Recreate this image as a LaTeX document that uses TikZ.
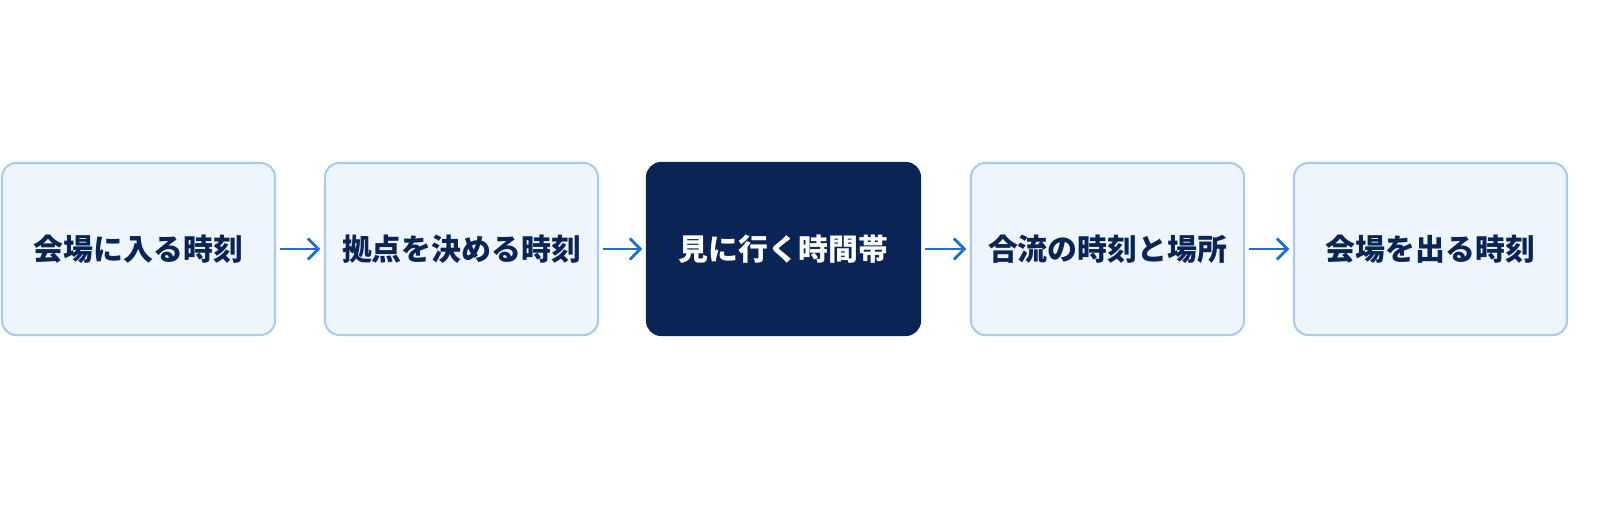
\documentclass[tikz,border=0pt]{standalone}
\usepackage{fontspec}
\newfontfamily\cjk{Noto Sans CJK JP}
\usetikzlibrary{arrows.meta,positioning}
\definecolor{boxfill}{HTML}{EFF5FC}
\definecolor{boxline}{HTML}{A8CBEE}
\definecolor{navy}{HTML}{0A2456}
\definecolor{arrowblue}{HTML}{1F6FD0}
\begin{document}
\begin{tikzpicture}
			[x=0.02cm,y=-0.02cm,
			stage/.style ={rectangle, rounded corners=8pt, draw=boxline, line width=1.2pt, fill=boxfill, minimum width=5.46cm, minimum height=3.44cm, text=navy, font=\cjk\bfseries\fontsize{17}{20}\selectfont},
			focus/.style ={stage, draw=navy, fill=navy, text=white},
			link/.style ={-{Straight Barb[length=6pt,width=12pt]}, arrowblue, line width=1.6pt, shorten <=2pt, shorten >=2pt}]
			\useasboundingbox (0,0) rectangle (1600,509);
			\node[stage] (s1) at (138.5,249) {会場に入る時刻};
			\node[stage] (s2) at (461.5,249) {拠点を決める時刻};
			\node[focus] (s3) at (783.5,249) {見に行く時間帯};
			\node[stage] (s4) at (1107.5,249) {合流の時刻と場所};
			\node[stage] (s5) at (1430.5,249) {会場を出る時刻};
			\draw[link] (s1) -- (s2);
			\draw[link] (s2) -- (s3);
			\draw[link] (s3) -- (s4);
			\draw[link] (s4) -- (s5);
		\end{tikzpicture}
\end{document}
